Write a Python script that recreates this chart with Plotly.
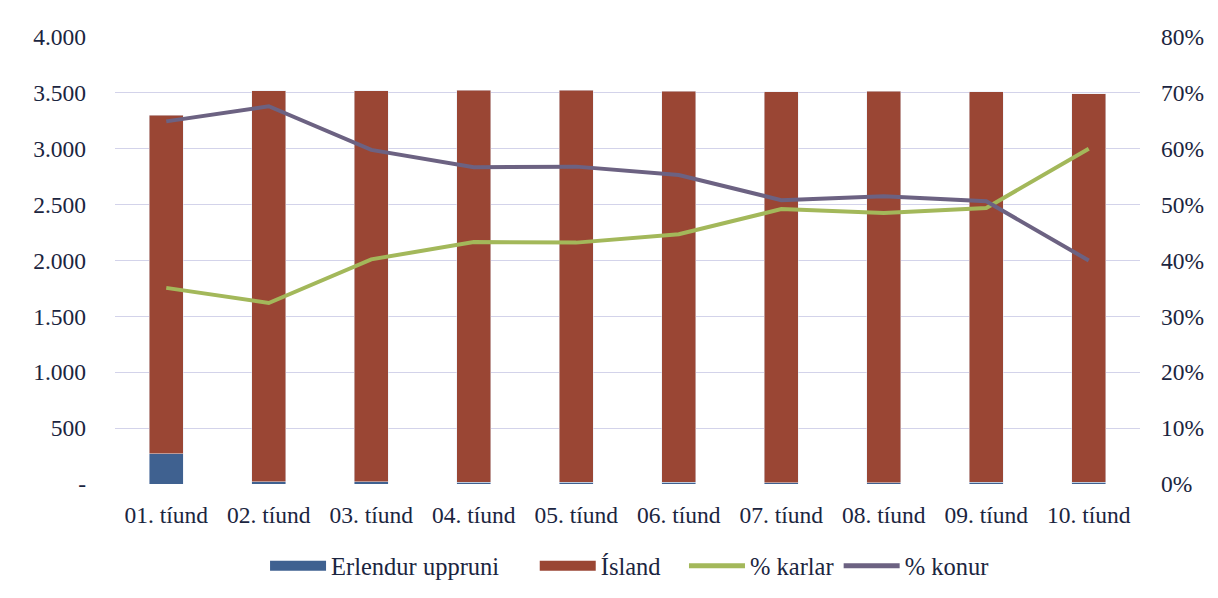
import plotly.graph_objects as go

categories = ["01. tíund", "02. tíund", "03. tíund", "04. tíund", "05. tíund",
              "06. tíund", "07. tíund", "08. tíund", "09. tíund", "10. tíund"]
erlendur = [270, 20, 20, 15, 15, 15, 10, 10, 15, 15]
island = [3030, 3500, 3500, 3510, 3510, 3500, 3500, 3505, 3495, 3475]
pct_karlar = [0.351, 0.324, 0.402, 0.433, 0.432, 0.447, 0.492, 0.485, 0.494, 0.600]
pct_konur = [0.649, 0.676, 0.598, 0.567, 0.568, 0.553, 0.508, 0.515, 0.506, 0.400]

left_ticks = [0, 500, 1000, 1500, 2000, 2500, 3000, 3500, 4000]
left_labels = ["-", "500", "1.000", "1.500", "2.000", "2.500", "3.000", "3.500", "4.000"]
right_ticks = [0, 0.1, 0.2, 0.3, 0.4, 0.5, 0.6, 0.7, 0.8]
right_labels = ["0%", "10%", "20%", "30%", "40%", "50%", "60%", "70%", "80%"]

FONT = "Liberation Serif"
TEXT = "#1b2540"
BLUE = "#3f6190"
RED = "#9a4634"
GREEN = "#a3b85a"
PURPLE = "#6c6282"

fig = go.Figure()

fig.add_trace(go.Bar(x=categories, y=erlendur, name="Erlendur uppruni",
                     marker_color=BLUE, width=0.33, showlegend=False))
fig.add_trace(go.Bar(x=categories, y=island, name="Ísland",
                     marker_color=RED, width=0.33, showlegend=False))
fig.add_trace(go.Scatter(x=categories, y=pct_karlar, name="% karlar", yaxis="y2",
                         mode="lines", line=dict(color=GREEN, width=4), showlegend=False))
fig.add_trace(go.Scatter(x=categories, y=pct_konur, name="% konur", yaxis="y2",
                         mode="lines", line=dict(color=PURPLE, width=4), showlegend=False))

# legend-only entries (Excel-like wide swatches)
NB = "\u00a0"
for name, color, w in [("Erlendur uppruni" + NB * 5, BLUE, 14), ("Ísland" + NB * 3, RED, 14),
                       ("% karlar", GREEN, 5), ("% konur", PURPLE, 5)]:
    fig.add_trace(go.Scatter(x=[None], y=[None], name=name, mode="lines",
                             line=dict(color=color, width=w)))

fig.update_layout(
    width=1218,
    height=598,
    barmode="stack",
    plot_bgcolor="white",
    paper_bgcolor="white",
    font=dict(family=FONT, size=23.5, color=TEXT),
    margin=dict(l=115, r=78, t=37, b=114, autoexpand=False),
    xaxis=dict(showgrid=False, ticks="", showline=False, automargin=False,
               ticklabelstandoff=14),
    yaxis=dict(range=[0, 4000], tickvals=left_ticks, ticktext=left_labels,
               showgrid=True, gridcolor="#d3d3ea", gridwidth=1, zeroline=False,
               ticks="", ticklabelstandoff=28, automargin=False),
    yaxis2=dict(range=[0, 0.8], tickvals=right_ticks, ticktext=right_labels,
                overlaying="y", side="right", showgrid=False, zeroline=False,
                ticks="", ticklabelstandoff=20, automargin=False),
    legend=dict(orientation="h", xref="paper", x=0.502, xanchor="center",
                y=-0.183, yanchor="middle", font=dict(size=24.5), itemwidth=56,
                traceorder="normal"),
    showlegend=True,
)

fig.write_html("out.html", config={"displayModeBar": False},
               post_script="document.body.style.margin = '0px';")
